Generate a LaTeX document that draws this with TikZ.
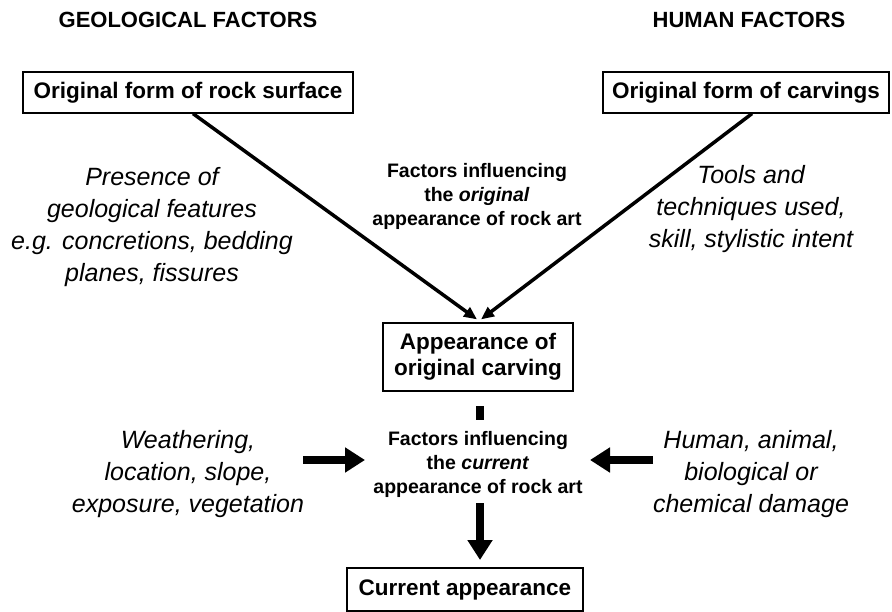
\documentclass[tikz,border=0pt]{standalone}
\usepackage{fontspec}
\setmainfont{Liberation Sans}
\usetikzlibrary{arrows.meta}
\begin{document}
\begin{tikzpicture}[x=1pt,y=-1pt,
  boxnode/.style={draw=black,line width=1.2pt,inner sep=0pt,align=center,font=\fontsize{22.5}{26}\selectfont\bfseries},
  heading/.style={inner sep=0pt,font=\fontsize{22}{26}\selectfont\bfseries},
  ital/.style={inner sep=0pt,align=center,font=\fontsize{25}{32}\selectfont\itshape},
  midtext/.style={inner sep=0pt,align=center,font=\fontsize{19.5}{24}\selectfont\bfseries},
  thinarrow/.style={line width=3.5pt,-{Triangle[length=13pt,width=11pt]}},
  thickarrow/.style={line width=8pt,-{Triangle[length=20pt,width=24pt]}},
]
\useasboundingbox (0,0) rectangle (892,612);
\fill[white] (0,0) rectangle (892,612);

% headings
\node[heading] (hgeo) at (188,20) {GEOLOGICAL FACTORS};
\node[heading] (hhum) at (749,20) {HUMAN FACTORS};

% boxes
\node[boxnode,minimum width=330pt,minimum height=41pt] (topL) at (188,92.5) {Original form of rock surface};
\node[boxnode,minimum width=286pt,minimum height=41pt] (topR) at (746,92.5) {Original form of carvings};
\node[boxnode,minimum width=190pt,minimum height=68pt] (appear) at (478,357) {Appearance of\\original carving};
\node[boxnode,minimum width=236pt,minimum height=43pt] (current) at (465,589.5) {Current appearance};

% italic texts
\node[ital] (geotext) at (152,226.6) {Presence of\\geological features\\e.g. concretions, bedding\\planes, fissures};
\node[ital] (humtext) at (751,208.6) {Tools and\\techniques used,\\skill, stylistic intent};
\node[ital] (weather) at (188,473.6) {Weathering,\\location, slope,\\exposure, vegetation};
\node[ital] (damage) at (751,473.6) {Human, animal,\\biological or\\chemical damage};

% centre texts
\node[midtext] (origfactors) at (477,196) {Factors influencing\\the \textit{original}\\appearance of rock art};
\node[midtext] (currfactors) at (478,464.5) {Factors influencing\\the \textit{current}\\appearance of rock art};

% connectors
\draw[thinarrow] ([xshift=5pt]topL.south) -- ([xshift=-1pt,yshift=3pt]appear.north);
\draw[thinarrow] ([xshift=6pt]topR.south) -- ([xshift=3pt,yshift=3pt]appear.north);

\coordinate (barA) at (480,406);
\coordinate (barB) at (480,420);
\draw[line width=8pt] (barA) -- (barB);

\coordinate (lA) at (303,460);
\coordinate (lB) at (365,460);
\draw[thickarrow] (lA) -- (lB);

\coordinate (rA) at (653,460);
\coordinate (rB) at (590,460);
\draw[thickarrow] (rA) -- (rB);

\coordinate (dA) at (480,503);
\coordinate (dB) at (480,560);
\draw[thickarrow] (dA) -- (dB);
\end{tikzpicture}
\end{document}
